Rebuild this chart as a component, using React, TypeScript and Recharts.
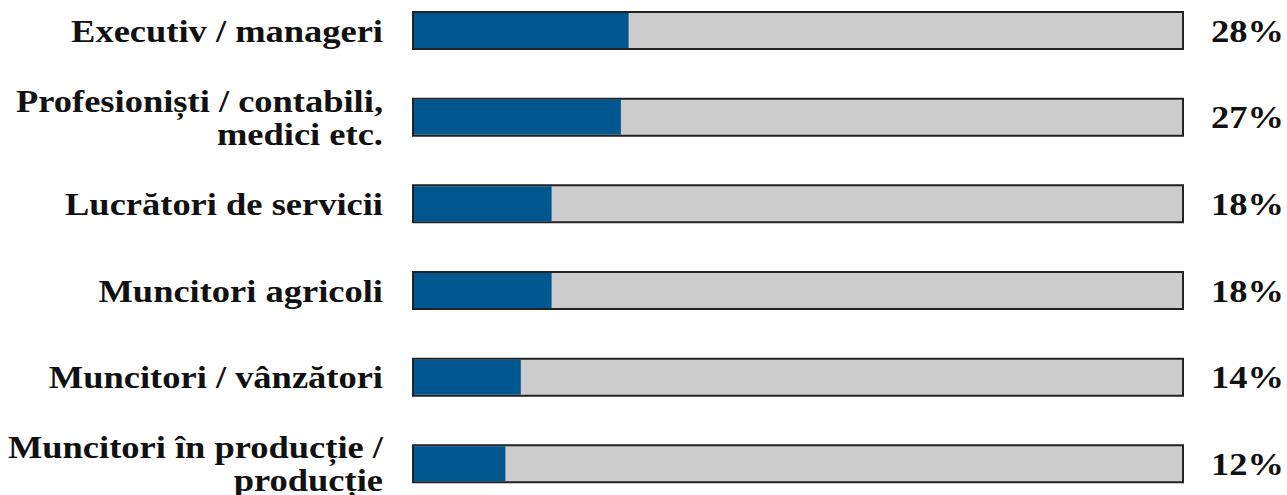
import { BarChart, Bar, XAxis, YAxis } from 'recharts'

const categories = [
  'Executiv / manageri',
  'Profesioniști / contabili,\nmedici etc.',
  'Lucrători de servicii',
  'Muncitori agricoli',
  'Muncitori / vânzători',
  'Muncitori în producție /\nproducție',
]
const values = [28, 27, 18, 18, 14, 12]
const pctLabels = ['28%', '27%', '18%', '18%', '14%', '12%']

const data = categories.map((name, i) => ({ name, value: values[i], pct: pctLabels[i] }))

const font = '"Liberation Serif", "Times New Roman", serif'
const stretch = 1.14

function LeftTick(props: any) {
  const { x, y, payload } = props
  const lines = String(payload.value).split('\n')
  const lh = 33
  const start = y - ((lines.length - 1) * lh) / 2
  return (
    <g transform={`translate(${x - 22},0) scale(${stretch},1)`}>
      <text x={0} y={start} textAnchor="end" fontFamily={font} fontWeight="bold" fontSize={32} fill="#111">
        {lines.map((l, i) => (
          <tspan key={i} x={0} y={start + i * lh} dy="0.35em">
            {l}
          </tspan>
        ))}
      </text>
    </g>
  )
}

function RightTick(props: any) {
  const { x, y, payload } = props
  return (
    <g transform={`translate(${x + 20},0) scale(${stretch},1)`}>
      <text x={0} y={y} dy="0.35em" textAnchor="start" fontFamily={font} fontWeight="bold" fontSize={32} fill="#111">
        {payload.value}
      </text>
    </g>
  )
}

function FillShape(props: any) {
  const { x, y, width, height } = props
  if (!width) return null
  return <rect x={x + 1} y={y + 1} width={Math.max(width - 1, 0)} height={height - 2} fill="#00568f" />
}

export default function App() {
  return (
    <div style={{ position: 'absolute', left: 0, top: -13, background: '#fff' }}>
      <BarChart
        width={1287}
        height={520}
        data={data}
        layout="vertical"
        margin={{ top: 0, right: 0, bottom: 0, left: 0 }}
        barSize={37}
      >
        <XAxis type="number" domain={[0, 100]} hide />
        <YAxis
          yAxisId="left"
          type="category"
          dataKey="name"
          width={413}
          axisLine={false}
          tickLine={false}
          tick={<LeftTick />}
        />
        <YAxis
          yAxisId="right"
          orientation="right"
          type="category"
          dataKey="pct"
          width={104}
          axisLine={false}
          tickLine={false}
          tick={<RightTick />}
        />
        <Bar
          yAxisId="left"
          dataKey="value"
          isAnimationActive={false}
          background={{ fill: '#cccccc', stroke: '#222', strokeWidth: 2 }}
          shape={<FillShape />}
        />
      </BarChart>
    </div>
  )
}
